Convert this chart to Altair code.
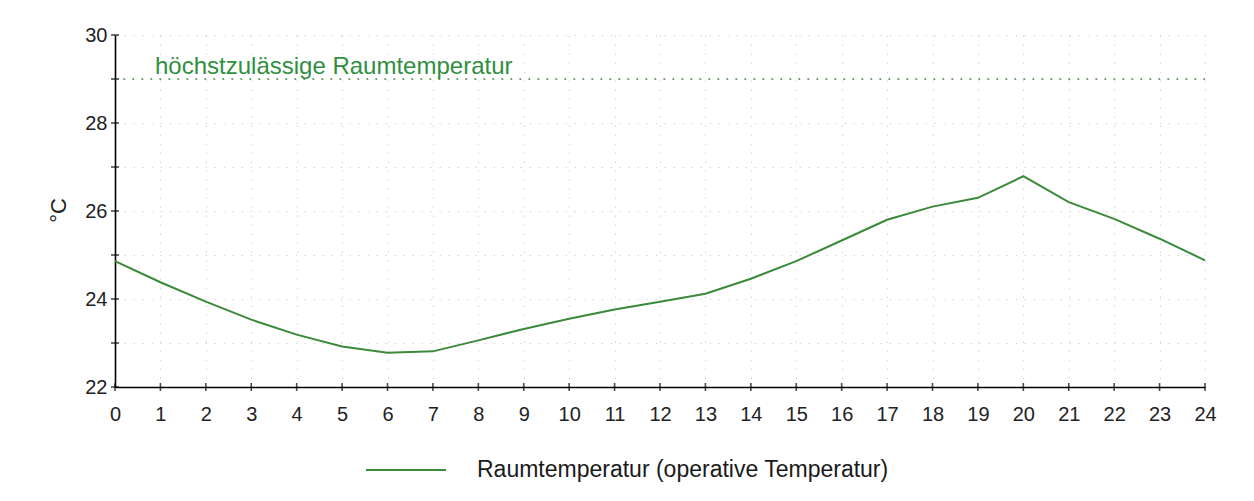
import altair as alt
import pandas as pd

# ---- data ----
hours = list(range(25))
temps = [24.86, 24.38, 23.94, 23.53, 23.19, 22.92, 22.78, 22.81, 23.06, 23.32,
         23.55, 23.76, 23.94, 24.12, 24.46, 24.86, 25.33, 25.80, 26.10, 26.30,
         26.79, 26.20, 25.82, 25.37, 24.88]
series_name = "Raumtemperatur (operative Temperatur)"
limit_value = [29]
limit_label = ["höchstzulässige Raumtemperatur"]
x_ticks = list(range(0, 25))
y_ticks = list(range(22, 31))

GREEN = "#3a8a3a"
TXT_GREEN = "#2f8f3f"
TICK_FONT = "Liberation Sans, Arial"
FONT = "Liberation Sans, Arial"

df = pd.DataFrame({"h": hours, "t": temps, "s": [series_name] * len(hours)})
df_lim = pd.DataFrame({"v": limit_value, "label": limit_label})
df_xt = pd.DataFrame({"h": x_ticks})
df_yt = pd.DataFrame({"v": y_ticks})

xs = alt.Scale(domain=[0, 24], nice=False, zero=False)
ys = alt.Scale(domain=[22, 30], nice=False, zero=False)

line = alt.Chart(df).mark_line(strokeWidth=2).encode(
    x=alt.X("h:Q", scale=xs, axis=alt.Axis(
        values=x_ticks, title=None, ticks=False, labelPadding=17,
        labelFontSize=20, labelFont=TICK_FONT, labelColor="#222",
        domainColor="#000", domainWidth=1.6,
        grid=True, gridDash=[1.5, 7.5], gridColor="#d6d6d6", gridWidth=1,
        labelFlush=False)),
    y=alt.Y("t:Q", scale=ys, axis=alt.Axis(
        values=y_ticks, title="°C", ticks=False, labelPadding=8,
        labelExpr="datum.value % 2 == 0 ? datum.label : ''",
        labelFontSize=20, labelFont=TICK_FONT, labelColor="#222",
        domainColor="#000", domainWidth=1.6,
        grid=True, gridDash=[1.5, 7.5], gridColor="#d6d6d6", gridWidth=1,
        titleAngle=270, titleX=-57, titleY=175, titleAlign="center",
        titleBaseline="middle", titleFontSize=22, titleFont=FONT,
        titleFontWeight="normal", titleColor="#222")),
    color=alt.Color("s:N", scale=alt.Scale(domain=[series_name], range=[GREEN]),
                    legend=alt.Legend(
                        title=None, orient="none", legendX=250, legendY=423,
                        symbolType="stroke", symbolSize=6400,
                        symbolStrokeWidth=2, labelFontSize=23, labelFont=FONT,
                        labelColor="#1a1a1a", labelOffset=30, padding=0,
                        labelLimit=800, clipHeight=24)),
)

limit = alt.Chart(df_lim).mark_rule(
    color=GREEN, strokeWidth=1.6, strokeDash=[1.6, 7.4]
).encode(y=alt.Y("v:Q", scale=ys))

limit_text = alt.Chart(df_lim).mark_text(
    align="left", baseline="alphabetic", dx=40, dy=-5,
    fontSize=24, font=FONT, color=TXT_GREEN
).encode(x=alt.datum(0, scale=xs), y=alt.Y("v:Q", scale=ys), text="label:N")

ytick_marks = alt.Chart(df_yt).mark_tick(
    orient="horizontal", size=8, thickness=1.6, color="#000"
).encode(y=alt.Y("v:Q", scale=ys), x=alt.datum(0, scale=xs))

xtick_marks = alt.Chart(df_xt).mark_tick(
    orient="vertical", size=8, thickness=1.6, color="#000"
).encode(x=alt.X("h:Q", scale=xs), y=alt.datum(22, scale=ys))

chart = alt.layer(limit, line, limit_text, ytick_marks, xtick_marks).properties(
    width=1090, height=352,
    autosize=alt.AutoSizeParams(type="none"),
    padding={"left": 107, "top": 27, "right": 30, "bottom": 95},
    background="white",
).configure_view(stroke=None)

chart.save("out.html", embed_options={"renderer": "svg", "actions": False})
